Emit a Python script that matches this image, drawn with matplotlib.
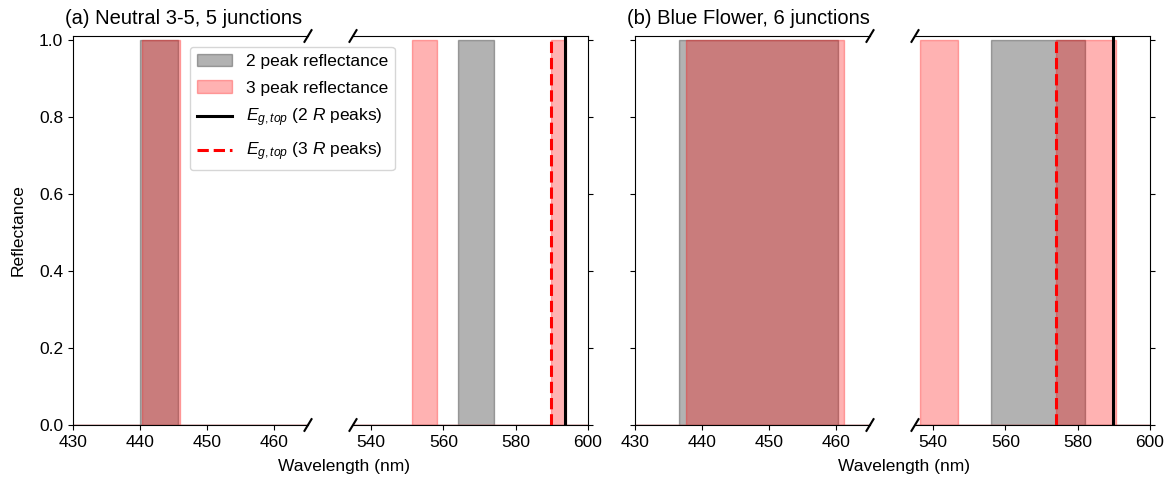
import matplotlib
matplotlib.use('Agg')

import matplotlib.pyplot as plt
import numpy as np

plt.rcParams['font.family'] = ['Liberation Sans', 'DejaVu Sans']
plt.rcParams['mathtext.fontset'] = 'custom'
plt.rcParams['mathtext.rm'] = 'Liberation Sans'
plt.rcParams['mathtext.it'] = 'Liberation Sans:italic'

# reflectance bands (start, end) in nm, reflectance = 1 inside
neutral_2peak = [(440.0, 445.7), (564.0, 574.1)]
neutral_3peak = [(440.3, 446.0), (551.4, 558.1), (589.8, 594.0)]
neutral_eg2 = 593.7
neutral_eg3 = 589.8

blue_2peak = [(436.6, 460.3), (556.0, 581.9)]
blue_3peak = [(437.6, 461.2), (536.3, 546.9), (573.9, 590.5)]
blue_eg2 = 589.7
blue_eg3 = 573.9

titles = ["(a) Neutral 3-5, 5 junctions", "(b) Blue Flower, 6 junctions"]
xlims = [(430, 465), (535, 600)]
xticks = [[430, 440, 450, 460], [540, 560, 580, 600]]
yticks = [0.0, 0.2, 0.4, 0.6, 0.8, 1.0]


def step(bands):
  x = [400.0]
  y = [0.0]
  for s, e in bands:
    x += [s, s, e, e]
    y += [0, 1, 1, 0]
  x.append(620.0)
  y.append(0.0)
  return np.array(x), np.array(y)


W, H = 1167, 478
fig = plt.figure(figsize=(W / 100, H / 100), dpi=100)

ax_w = 235 / W
gap = 45 / W
x0 = 73 / W
bot = 1 - 425 / H
top = 1 - 36 / H

panels = [(neutral_2peak, neutral_3peak, neutral_eg2, neutral_eg3),
          (blue_2peak, blue_3peak, blue_eg2, blue_eg3)]

fs = 12.5
d = 0.015
handles = None
for p, (b2, b3, eg2, eg3) in enumerate(panels):
  for k in range(2):
    left = x0 + (2 * p + k) * (ax_w + gap) + (2 / W if p == 1 else 0)
    ax = fig.add_axes([left, bot, ax_w, top - bot])
    x2, y2 = step(b2)
    x3, y3 = step(b3)
    h1 = ax.fill_between(x2, y2, color='k', alpha=0.3, label='2 peak reflectance')
    h2 = ax.fill_between(x3, y3, color='r', alpha=0.3, label='3 peak reflectance')
    h3 = ax.axvline(eg2, color='k', lw=2.2, label=r'$E_{g,top}$ (2 $R$ peaks)')
    h4 = ax.axvline(eg3, color='r', lw=2.2, ls='--', label=r'$E_{g,top}$ (3 $R$ peaks)')
    if handles is None:
      handles = [h1, h2, h3, h4]
    ax.set_xlim(*xlims[k])
    ax.set_ylim(0, 1.01)
    ax.set_xticks(xticks[k])
    ax.set_yticks(yticks)
    ax.tick_params(labelsize=fs)
    kw = dict(transform=ax.transAxes, color='k', clip_on=False, lw=1.5)
    if k == 0:
      ax.spines['right'].set_visible(False)
      if p == 0:
        ax.set_ylabel('Reflectance', fontsize=fs, labelpad=10)
      else:
        ax.set_yticklabels([])
      ax.set_title(titles[p], fontsize=14.5, loc='left', x=-0.032, pad=9)
      ax.plot((1 - d, 1 + d), (-d, d), **kw)
      ax.plot((1 - d, 1 + d), (1 - d, 1 + d), **kw)
    else:
      ax.spines['left'].set_visible(False)
      ax.yaxis.tick_right()
      ax.set_yticklabels([])
      ax.plot((-d, d), (-d, d), **kw)
      ax.plot((-d, d), (1 - d, 1 + d), **kw)

  # xlabel under the panel
  cx = x0 + 2 * p * (ax_w + gap) + ax_w + gap / 2 + 13 / W
  fig.text(cx, 4 / H, 'Wavelength (nm)', ha='center', va='bottom', fontsize=fs)

fig.legend(handles=handles, loc='upper left', bbox_to_anchor=(190 / W, 1 - 47 / H),
           borderaxespad=0, fontsize=fs, labelspacing=0.65)

plt.savefig('out.png', dpi=100)
